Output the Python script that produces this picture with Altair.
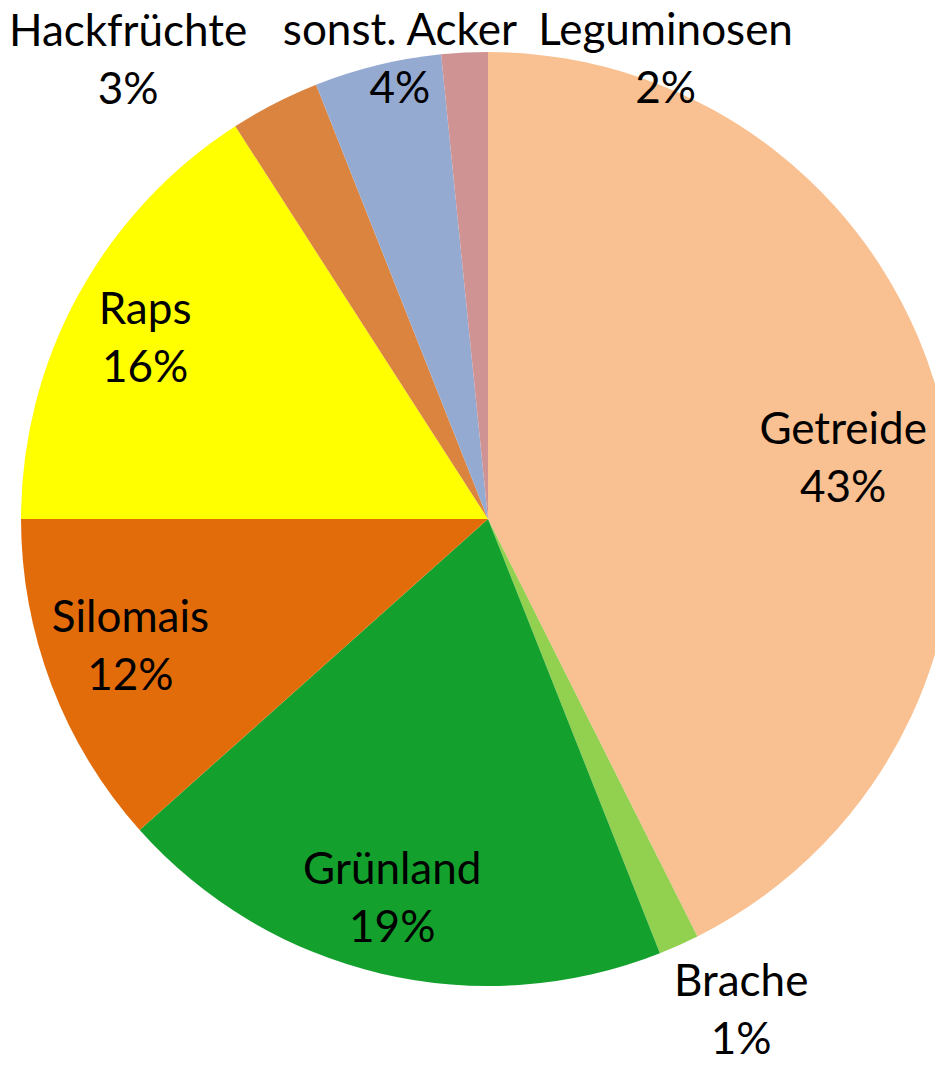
import altair as alt
import pandas as pd

# Data
categories = ["Getreide", "Brache", "Grünland", "Silomais", "Raps",
              "Hackfrüchte", "sonst. Acker", "Leguminosen"]
shares = [42.6, 1.4, 19.4, 11.6, 15.9, 3.1, 4.4, 1.6]
colors = ["#F9C091", "#92D050", "#13A02D", "#E36C0A", "#FFFF00",
          "#DA843F", "#95AAD1", "#D09393"]

# Label layout (angle clockwise from top in degrees, distance from centre in px)
label_angle = [80.6, 152.8, 194.1, 250.2, 297.6, 321.8, 349.1, 21.2]
label_radius = [360, 554, 393, 380, 387, 582, 466, 491]

df = pd.DataFrame({
    "cat": categories,
    "share": shares,
    "order": list(range(len(categories))),
    "label": [f"{c}\n{round(s)}%" for c, s in zip(categories, shares)],
    "la": label_angle,
    "lr": label_radius,
})

CX, CY, R = 480, 511, 467

pie = alt.Chart(df).mark_arc(outerRadius=R, x=CX, y=CY, stroke=None).encode(
    theta=alt.Theta("share:Q", stack=True),
    order=alt.Order("order:Q"),
    color=alt.Color("cat:N", scale=alt.Scale(domain=categories, range=colors), legend=None),
)

labels = alt.Chart(df).mark_text(
    x=CX, y=CY, dy=-29, font="Lato", fontSize=44, lineBreak="\n", lineHeight=58,
    align="center", baseline="middle", color="black"
).encode(
    theta=alt.Theta("la:Q", stack=None, scale=alt.Scale(domain=[0, 360], range=[0, 6.283185307179586])),
    radius=alt.Radius("lr:Q", scale=None),
    text="label:N",
)

chart = alt.layer(pie, labels).resolve_scale(theta="independent").properties(
    width=927, height=1049, autosize=alt.AutoSizeParams(type="none"), padding=0
).configure_view(stroke=None)

chart.save("out.html", embed_options={"renderer": "svg", "actions": False})
